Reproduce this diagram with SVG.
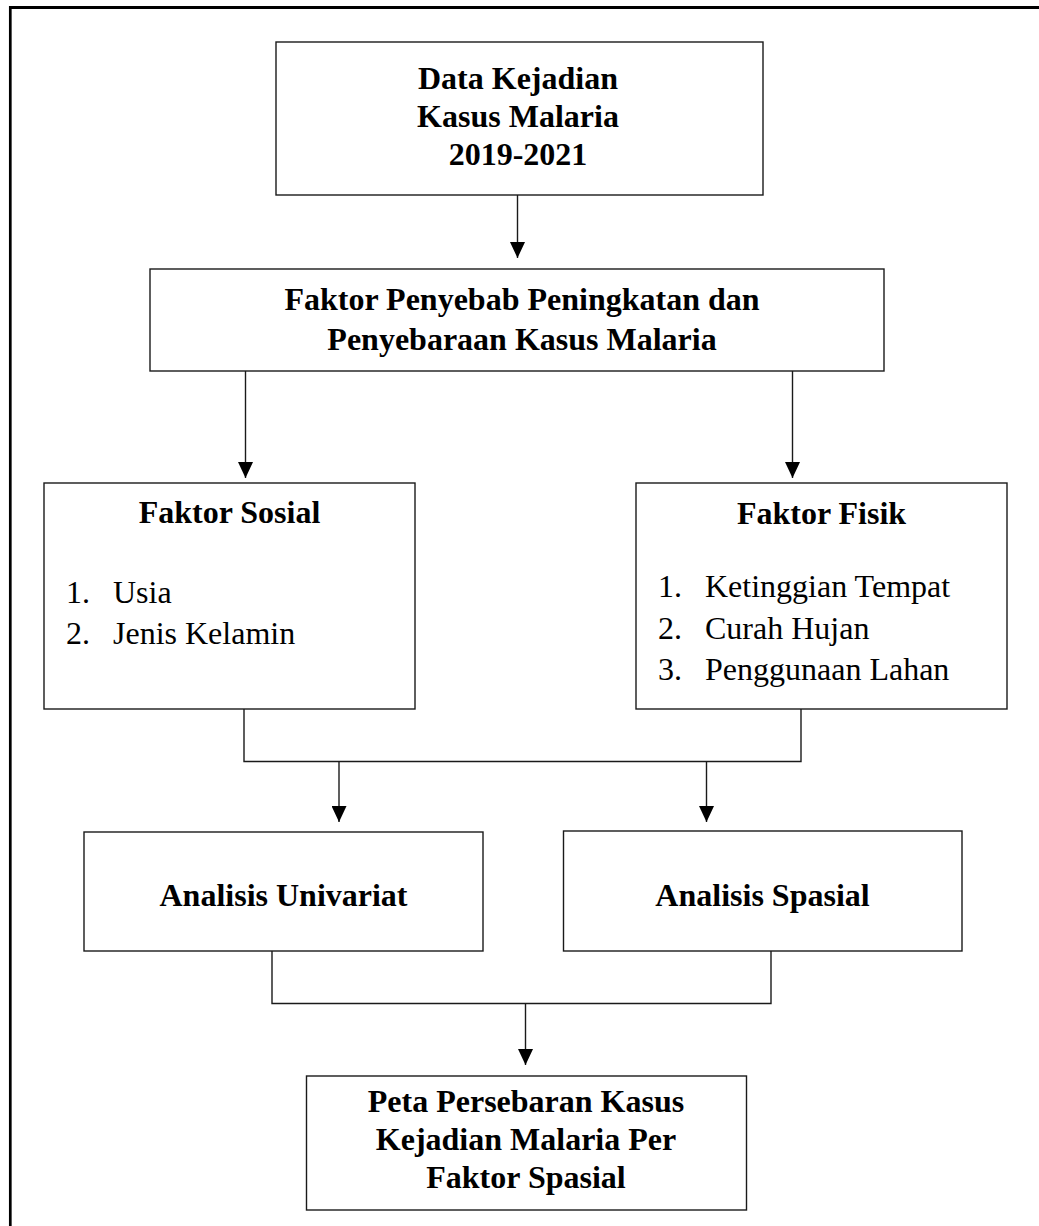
<svg xmlns="http://www.w3.org/2000/svg" width="1039" height="1226" viewBox="0 0 1039 1226">
<style>
.box{fill:#fff;stroke:#1a1a1a;stroke-width:1.4}
.con{fill:none;stroke:#1a1a1a;stroke-width:1.4}
.b{font-family:"Liberation Serif","Times New Roman",serif;font-weight:bold;font-size:32px;fill:#000;text-anchor:middle}
.r{font-family:"Liberation Serif","Times New Roman",serif;font-size:32px;fill:#000}
</style>
<defs>
<marker id="arr" markerUnits="userSpaceOnUse" markerWidth="16" markerHeight="15" refX="16" refY="7.5" orient="auto" viewBox="0 0 16 15">
<path d="M0,0 L16,7.5 L0,15 Z" fill="#000"/>
</marker>
</defs>
<rect width="1039" height="1226" fill="#fff"/>
<g id="frame">
<line x1="9" y1="7.5" x2="1039" y2="7.5" stroke="#000" stroke-width="3"/>
<line x1="10.3" y1="6" x2="10.3" y2="1226" stroke="#000" stroke-width="2.7"/>
</g>
<g id="connectors">
<path class="con" d="M517.5,195 V258" marker-end="url(#arr)"/>
<path class="con" d="M245.5,371 V478" marker-end="url(#arr)"/>
<path class="con" d="M792.5,371 V478" marker-end="url(#arr)"/>
<path class="con" d="M244,709 V761.5 H801 V709"/>
<path class="con" d="M339,761.5 V822" marker-end="url(#arr)"/>
<path class="con" d="M706.5,761.5 V822" marker-end="url(#arr)"/>
<path class="con" d="M272,951 V1003.5 H771 V951"/>
<path class="con" d="M525.5,1003.5 V1065" marker-end="url(#arr)"/>
</g>
<g id="n-data">
<rect class="box" x="276" y="42" width="487" height="153"/>
<text class="b" x="518" y="89">Data Kejadian</text>
<text class="b" x="518" y="127">Kasus Malaria</text>
<text class="b" x="518" y="165">2019-2021</text>
</g>
<g id="n-faktor">
<rect class="box" x="150" y="269" width="734" height="102"/>
<text class="b" x="522" y="310">Faktor Penyebab Peningkatan dan</text>
<text class="b" x="522" y="350">Penyebaraan Kasus Malaria</text>
</g>
<g id="n-sosial">
<rect class="box" x="44" y="483" width="371" height="226"/>
<text class="b" x="229.5" y="523">Faktor Sosial</text>
<text class="r" x="66" y="603">1.</text>
<text class="r" x="113" y="603">Usia</text>
<text class="r" x="66" y="644">2.</text>
<text class="r" x="113" y="644">Jenis Kelamin</text>
</g>
<g id="n-fisik">
<rect class="box" x="636" y="483" width="371" height="226"/>
<text class="b" x="821.5" y="524">Faktor Fisik</text>
<text class="r" x="658" y="597">1.</text>
<text class="r" x="705" y="597">Ketinggian Tempat</text>
<text class="r" x="658" y="638.5">2.</text>
<text class="r" x="705" y="638.5">Curah Hujan</text>
<text class="r" x="658" y="680">3.</text>
<text class="r" x="705" y="680">Penggunaan Lahan</text>
</g>
<g id="n-univariat">
<rect class="box" x="84" y="832" width="399" height="119"/>
<text class="b" x="283.5" y="906">Analisis Univariat</text>
</g>
<g id="n-spasial">
<rect class="box" x="563.5" y="831" width="398.5" height="120"/>
<text class="b" x="762.5" y="906">Analisis Spasial</text>
</g>
<g id="n-peta">
<rect class="box" x="306.5" y="1076" width="440" height="134"/>
<text class="b" x="526" y="1112">Peta Persebaran Kasus</text>
<text class="b" x="526" y="1150">Kejadian Malaria Per</text>
<text class="b" x="526" y="1188">Faktor Spasial</text>
</g>
</svg>
